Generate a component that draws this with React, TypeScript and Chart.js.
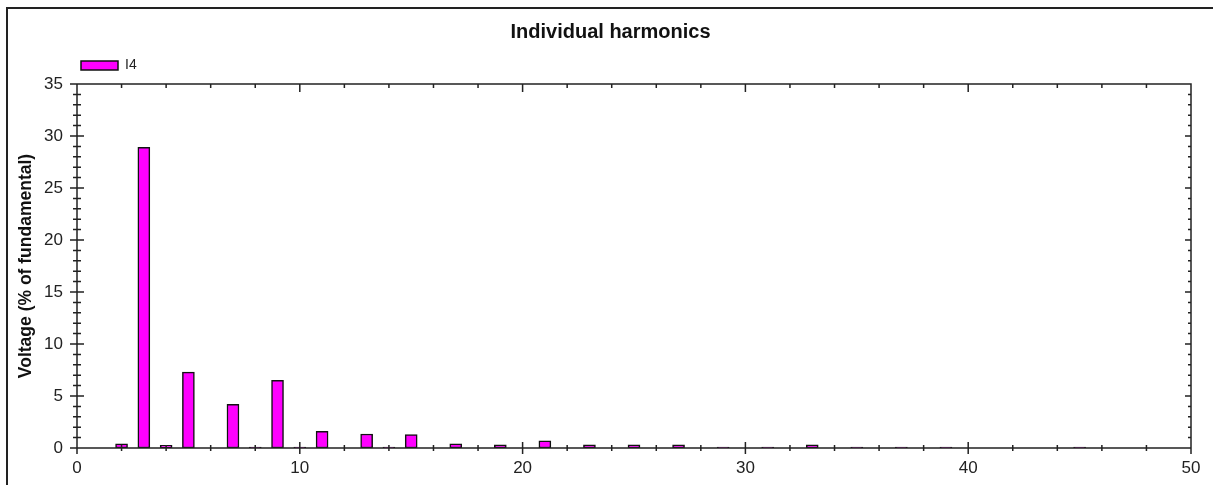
import React, { useEffect, useRef } from "react";
import { Chart, registerables } from "chart.js";

Chart.register(...registerables);

// ---- data ----
const harmonics = [2, 3, 4, 5, 7, 8, 9, 10, 11, 13, 14, 15, 17, 19, 21, 23, 25, 27, 29, 31, 33, 35, 37, 39, 45];
const values = [0.4, 28.9, 0.25, 7.3, 4.2, 0.1, 6.5, 0.1, 1.6, 1.35, 0.1, 1.3, 0.4, 0.3, 0.7, 0.3, 0.3, 0.3, 0.1, 0.1, 0.3, 0.1, 0.1, 0.1, 0.1];
const seriesLabel = "I4";
const chartTitle = "Individual harmonics";
const yAxisTitle = "Voltage (% of fundamental)";
const xRange = [0, 50];
const xLabelStep = 10;
const xMinorStep = 2;
const yRange = [0, 35];
const yLabelStep = 5;
const yMinorStep = 1;

const FONT = "'Liberation Sans', Arial, Helvetica, sans-serif";
const AXIS = "#222";

const framePlugin = {
  id: "frameTicks",
  afterDatasetsDraw(chart: any) {
    const { ctx, chartArea: a, scales } = chart;
    const xs = scales.x;
    const ys = scales.y;
    ctx.save();
    ctx.strokeStyle = AXIS;
    ctx.lineWidth = 1.5;
    ctx.beginPath();
    ctx.rect(a.left, a.top, a.right - a.left, a.bottom - a.top);
    for (let v = yRange[0]; v <= yRange[1]; v += yMinorStep) {
      const py = ys.getPixelForValue(v);
      const major = v % yLabelStep === 0;
      const l = major ? 7 : 4;
      ctx.moveTo(a.left - l, py);
      ctx.lineTo(a.left + l, py);
      const r = major ? 6 : 3;
      ctx.moveTo(a.right - r, py);
      ctx.lineTo(a.right, py);
    }
    for (let v = xRange[0]; v <= xRange[1]; v += xMinorStep) {
      const px = xs.getPixelForValue(v);
      const major = v % xLabelStep === 0;
      const b = major ? 6 : 3;
      ctx.moveTo(px, a.bottom - b);
      ctx.lineTo(px, a.bottom + b);
      const t = major ? 8 : 4;
      ctx.moveTo(px, a.top);
      ctx.lineTo(px, a.top + t);
    }
    ctx.stroke();
    ctx.restore();
  },
};

export default function App() {
  const ref = useRef<HTMLCanvasElement | null>(null);

  useEffect(() => {
    if (!ref.current) return;
    const chart = new Chart(ref.current, {
      type: "bar",
      data: {
        datasets: [
          {
            label: seriesLabel,
            data: harmonics.map((h, i) => ({ x: h, y: values[i] })),
            backgroundColor: "#FF00FF",
            borderColor: "#111",
            borderWidth: 1.5,
            borderSkipped: false,
            barThickness: 12,
          } as any,
        ],
      },
      options: {
        animation: false,
        responsive: false,
        devicePixelRatio: 1,
        events: [],
        layout: { padding: 0 },
        plugins: {
          title: {
            display: true,
            text: chartTitle,
            color: "#111",
            font: { family: FONT, size: 20, weight: "bold" },
            padding: { top: 11, bottom: 10.5 },
          },
          legend: {
            display: true,
            position: "top",
            align: "start",
            fullSize: false,
            labels: {
              boxWidth: 37,
              boxHeight: 9,
              padding: 4,
              color: "#222",
              font: { family: FONT, size: 14 },
            },
          },
          tooltip: { enabled: false },
        },
        scales: {
          x: {
            type: "linear",
            position: "bottom",
            min: xRange[0],
            max: xRange[1],
            offset: false,
            grid: { display: false, drawTicks: false },
            border: { display: false },
            ticks: {
              stepSize: xLabelStep,
              padding: 10,
              color: "#222",
              font: { family: FONT, size: 17 },
              maxRotation: 0,
            },
            afterFit: (s: any) => {
              s.height = 37;
            },
          },
          x2: {
            type: "linear",
            position: "top",
            axis: "x",
            min: xRange[0],
            max: xRange[1],
            grid: { display: false, drawTicks: false },
            border: { display: false },
            ticks: { display: false },
            afterFit: (s: any) => {
              s.height = 1.5;
            },
          },
          y: {
            type: "linear",
            position: "left",
            min: yRange[0],
            max: yRange[1],
            grid: { display: false, drawTicks: false },
            border: { display: false },
            ticks: {
              stepSize: yLabelStep,
              padding: 14,
              color: "#222",
              font: { family: FONT, size: 17 },
            },
            title: {
              display: true,
              text: yAxisTitle,
              color: "#111",
              font: { family: FONT, size: 17.5, weight: "bold" },
              padding: { top: 8, bottom: 0 },
            },
            afterFit: (s: any) => {
              s.width = 69;
            },
          },
          y2: {
            type: "linear",
            position: "right",
            axis: "y",
            min: yRange[0],
            max: yRange[1],
            grid: { display: false, drawTicks: false },
            border: { display: false },
            ticks: { display: false },
            afterFit: (s: any) => {
              s.width = 22;
            },
          },
        },
      } as any,
      plugins: [framePlugin],
    });
    return () => chart.destroy();
  }, []);

  return (
    <div
      style={{
        position: "absolute",
        left: 6,
        top: 7,
        width: 1207,
        height: 478,
        boxSizing: "border-box",
        borderTop: "2px solid #222",
        borderLeft: "2px solid #222",
        background: "#fff",
        overflow: "hidden",
      }}
    >
      <canvas ref={ref} width={1205} height={476} style={{ display: "block" }} />
    </div>
  );
}
